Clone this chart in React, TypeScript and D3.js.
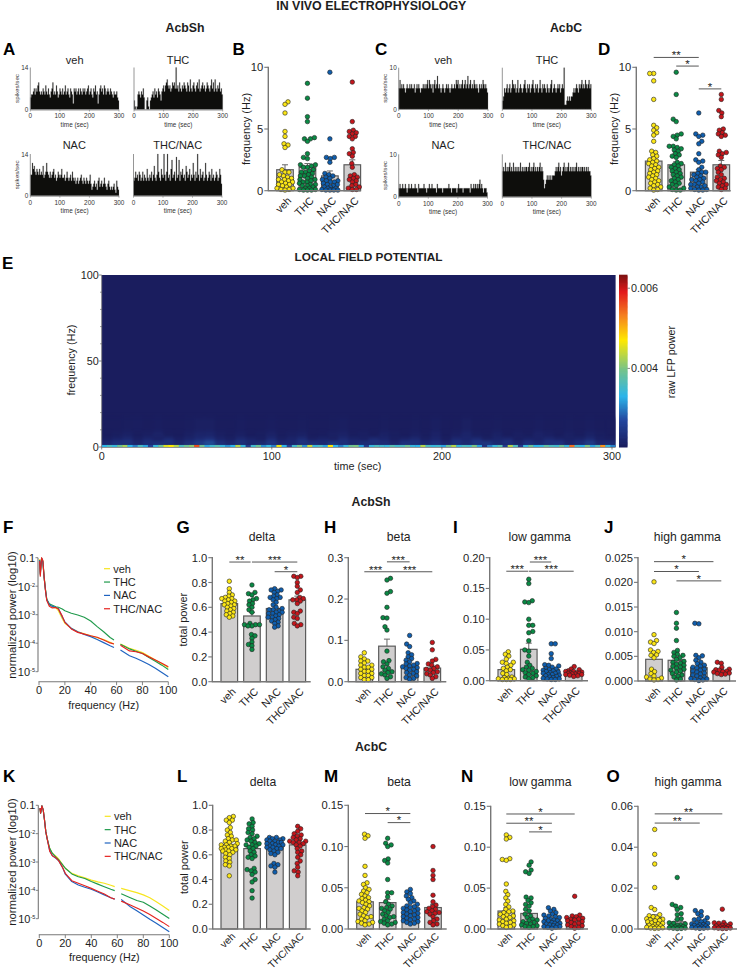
import React from "react";
import * as d3 from "d3";

// ---------- categories ----------
const groups = ["veh", "THC", "NAC", "THC/NAC"];
const groupColors = ["#FBE616", "#0A8A45", "#0F5EAE", "#C4161C"];
const lineColors = ["#F7E51E", "#1F9A4B", "#1F63C0", "#E5231F"];

// ---------- spike histograms (spikes per 3 s bin) ----------
const histAVeh = [4,5,5,6,7,5,7,6,8,9,6,5,6,5,7,6,5,8,6,5,7,5,4,6,7,9,5,6,5,8,6,4,5,7,6,5,7,5,6,8,5,6,7,5,4,7,6,5,2,7,6,7,5,6,7,5,7,6,5,7,6,7,5,6,7,8,5,6,7,5,4,7,6,8,5,6,2,5,7,8,6,7,5,8,7,5,6,7,6,5,7,6,5,4,6,5,5,6,4,3];
const histATHC = [3,1,0,1,5,6,5,4,6,5,7,4,0,0,3,4,1,0,3,4,5,6,4,7,5,6,4,7,6,5,3,6,7,8,6,8,9,10,8,7,8,6,7,9,8,9,7,14,7,8,6,9,7,6,8,7,9,8,7,6,9,8,6,10,7,6,8,9,7,6,8,9,7,10,6,7,8,9,7,8,6,7,9,8,7,6,8,10,7,9,6,10,7,6,8,7,9,6,7,5];
const histANAC = [7,7,11,9,10,8,7,9,8,7,9,7,8,7,10,6,7,8,11,8,7,6,8,6,7,8,9,6,7,5,6,8,7,6,7,9,6,6,7,5,6,8,6,5,6,7,5,8,6,5,6,4,5,6,4,5,6,7,5,4,6,5,4,6,5,4,5,7,4,2,3,4,5,3,4,2,5,6,3,4,5,3,4,6,4,3,2,4,5,3,2,3,2,3,4,2,1,5,3,2];
const histATN = [5,6,8,6,7,5,8,7,5,6,8,5,7,6,5,9,6,5,7,6,8,5,7,10,6,5,7,14,8,6,5,9,7,6,14,7,5,8,14,6,7,5,9,12,6,7,8,5,13,6,7,12,5,8,7,9,6,7,5,10,8,6,7,9,5,7,6,11,7,5,8,6,14,7,5,9,6,7,8,5,6,11,7,5,6,8,7,5,9,6,7,5,6,8,7,5,6,9,7,4];
const histCVeh = [5,7,5,6,5,6,5,4,5,6,5,5,6,5,6,5,5,6,4,5,6,5,6,5,4,5,5,6,5,6,5,6,7,5,7,6,5,6,4,6,7,5,6,8,5,6,5,4,5,6,5,4,5,6,5,6,5,4,5,6,5,5,6,5,7,6,7,5,6,5,6,7,5,6,7,5,6,8,5,6,7,5,6,5,7,6,5,6,5,4,6,5,6,5,7,6,5,6,5,4];
const histCTHC = [2,3,5,4,5,6,4,5,6,4,5,7,6,5,6,4,5,7,4,5,6,5,4,5,6,7,5,4,6,5,6,4,5,6,7,5,4,6,5,6,4,5,7,5,4,6,5,6,5,4,6,5,4,5,6,7,4,5,6,5,4,5,6,5,6,4,5,6,5,10,1,1,2,3,2,3,2,3,3,4,5,4,5,6,5,4,6,5,6,7,5,6,5,7,6,5,6,7,5,6];
const histCNAC = [2,3,2,2,3,2,2,3,2,1,2,3,2,2,3,2,2,2,3,2,2,1,3,2,2,2,2,2,3,2,2,1,2,2,3,2,2,3,2,2,2,2,1,3,2,2,2,2,2,1,2,2,2,2,2,2,3,2,2,1,2,2,2,2,2,1,2,3,2,2,2,2,1,2,2,2,2,2,2,2,1,3,2,2,3,2,3,2,3,2,3,4,2,3,2,1,2,2,2,1];
const histCTN = [6,7,6,8,6,7,6,7,8,6,7,6,8,6,7,6,7,6,7,6,8,6,7,6,7,6,7,7,6,7,8,6,7,6,7,8,6,7,6,7,6,7,8,6,7,6,4,2,3,4,5,4,5,4,5,4,5,5,5,6,7,6,7,8,6,7,5,6,7,8,6,7,6,7,8,6,7,6,7,6,7,6,7,8,6,7,6,7,6,7,7,6,7,6,7,6,7,6,6,5];

// ---------- firing frequency ----------
const bVeh = [7.2,7.0,6.3,4.8,4.4,3.8,3.7,3.5,1.7,1.5,1.5,1.3,1.2,1.1,1.0,0.9,0.9,0.8,0.7,0.7,0.6,0.5,0.5,0.4,0.3,0.2,0.2,0.1,0.1,0.05];
const bTHC = [8.7,7.5,6.0,5.6,4.3,4.2,4.2,4.0,3.0,2.7,2.6,2.1,2.1,2.0,1.9,1.9,1.7,1.6,1.5,1.5,1.4,1.3,1.2,1.2,1.1,1.0,0.9,0.9,0.8,0.7,0.7,0.6,0.5,0.5,0.4,0.4,0.3,0.2,0.2,0.1,0.1,0.05,0.05,0.05];
const bNAC = [9.6,4.2,2.7,2.7,2.6,2.3,1.4,1.3,1.2,1.1,1.0,0.9,0.8,0.8,0.7,0.7,0.6,0.5,0.5,0.4,0.3,0.3,0.2,0.2,0.1,0.1,0.05,0.05,0.05,0.05];
const bTN = [8.8,5.6,4.9,4.8,4.7,4.6,4.4,4.4,4.2,3.4,3.1,3.0,2.8,2.2,1.9,1.3,1.2,1.1,1.0,0.9,0.8,0.7,0.5,0.4,0.3,0.2,0.1,0.1];
const bMeans = [1.7, 1.9, 1.2, 2.1];
const bSems = [0.4, 0.3, 0.4, 0.4];

const dVeh = [9.5,9.5,8.9,7.4,5.3,5.1,4.9,4.7,4.5,4.0,3.2,3.1,2.9,2.8,2.6,2.5,2.4,2.3,2.2,2.1,2.0,1.9,1.8,1.7,1.6,1.5,1.4,1.3,1.2,1.1,1.0,0.9,0.8,0.7,0.6,0.5,0.4,0.3,0.2,0.1,0.05];
const dTHC = [9.6,7.8,5.8,5.6,4.6,4.5,4.4,4.2,3.6,3.6,3.5,3.4,3.3,3.2,3.0,2.9,2.8,2.7,2.3,2.2,2.1,2.0,1.9,1.8,1.7,1.6,1.5,1.4,1.3,1.2,1.1,1.0,0.9,0.8,0.7,0.6,0.5,0.4,0.3,0.2,0.1,0.05,0.05];
const dNAC = [6.3,4.6,4.5,4.4,4.0,3.8,3.0,2.5,2.4,2.3,1.9,1.7,1.5,1.5,1.4,1.3,1.2,1.1,1.0,0.9,0.9,0.8,0.7,0.6,0.5,0.5,0.4,0.3,0.3,0.2,0.1,0.1,0.05,0.05];
const dTN = [7.8,7.4,6.5,6.3,6.0,5.0,4.9,4.7,4.6,4.5,4.4,3.2,3.1,3.0,2.9,2.7,2.0,1.9,1.8,1.7,1.5,1.3,1.1,1.0,0.9,0.8,0.7,0.6,0.5,0.4,0.3,0.2,0.1];
const dMeans = [2.4, 2.1, 1.5, 2.1];
const dSems = [0.3, 0.25, 0.2, 0.35];

// ---------- spectrogram, power x 1000 ----------
const spectroBand0 = [3.3,3.6,3.4,3.9,4.2,3.3,3.0,3.6,3.2,2.6,3.4,3.9,4.5,4.7,4.3,3.6,3.9,4.1,5.6,3.9,3.2,3.5,3.7,3.4,3.1,3.3,4.3,3.4,2.5,3.5,3.9,3.1,3.4,3.0,4.6,3.3,2.6,3.5,4.0,3.1,4.4,3.4,3.6,3.2,4.7,3.3,3.0,3.4,3.9,4.0,3.2,2.5,3.4,3.6,3.5,3.4,3.7,3.5,3.6,3.9,3.4,3.3,4.3,3.6,3.4,3.5,3.2,3.9,4.3,3.4,3.6,3.5,4.0,3.2,2.4,3.0,3.4,3.7,2.5,4.3,3.6,2.5,3.4,3.9,3.3,3.4,3.8,3.6,3.5,3.9,3.4,5.4,3.5,3.3,4.0,3.2,3.6,5.2,3.4,3.0];
const spectroBand1 = [2.4,2.6,2.5,2.3,2.5,2.7,2.4,2.3,2.6,2.8,3.0,2.6,2.4,2.5,2.3,2.5,2.7,2.4,2.3,2.5,2.6,2.4,2.8,2.5,2.3,2.6,2.4,2.5,2.3,2.7,2.5,2.4,2.6,2.3,2.5,2.4,2.6,2.8,2.4,2.5,2.3,2.6,2.4,2.5,2.7,2.3,2.5,2.8,2.4,2.5];
const spectroBand2 = [2.1,2.2,2.3,2.12,2.25,2.08,2.35,2.12,2.2,2.3,2.42,2.2,2.12,2.3,2.2,2.08,2.3,2.12,2.2,2.35,2.12,2.2,2.08,2.3,2.2,2.12,2.35,2.2,2.08,2.2,2.3,2.12,2.2,2.08,2.3,2.2,2.35,2.12,2.2,2.3,2.08,2.2,2.12,2.3,2.2,2.12,2.2,2.3,2.12,2.08];
const spectroBand3 = [2.04,2.07,2.12,2.05,2.09,2.15,2.05,2.04,2.1,2.17,2.18,2.09,2.05,2.1,2.04,2.07,2.14,2.05,2.09,2.12,2.04,2.05,2.1,2.14,2.05,2.09,2.04,2.12,2.07,2.04,2.1,2.05,2.14,2.04,2.09,2.17,2.07,2.05,2.12,2.04,2.09,2.05,2.14,2.09,2.04,2.1,2.05,2.13,2.07,2.04];
const spectroBand4 = [2.04,2.04,2.05,2.06,2.04,2.06,2.04,2.04,2.05,2.08,2.08,2.04,2.04,2.06,2.04,2.04,2.06,2.04,2.04,2.05,2.04,2.04,2.05,2.07,2.04,2.04,2.04,2.05,2.04,2.04,2.05,2.04,2.07,2.04,2.04,2.08,2.04,2.04,2.05,2.04,2.04,2.04,2.06,2.04,2.04,2.05,2.04,2.06,2.04,2.04];
const colorStops = [2.04, 2.7, 3.3, 3.95, 4.7, 5.3, 5.9, 6.33];
const colorValues = ["#1A1D5E", "#24479F", "#2CB5EA", "#74C38C", "#FFE800", "#F58220", "#E31A1C", "#7A1010"];

// ---------- power spectra (log10) ----------
const specFreq = [0.5,1,2,3,4,5,6,8,10,13,15,18,20,25,30,35,40,45,50,55,58,60,63,70,75,80,85,90,95,100];
const fVeh = [-1.05,-1.5,-1.03,-1.12,-1.68,-2.1,-2.45,-2.66,-2.72,-2.76,-2.86,-3.14,-3.3,-3.48,-3.6,-3.67,-3.74,-3.81,-3.87,-3.97,-4.03,null,-4.03,-4.18,-4.25,-4.33,-4.46,-4.59,-4.72,-4.85];
const fTHC = [-1.08,-1.6,-1.02,-1.14,-1.72,-2.13,-2.46,-2.62,-2.66,-2.72,-2.74,-2.8,-2.86,-2.95,-3.01,-3.09,-3.22,-3.42,-3.6,-3.8,-3.89,null,-4.04,-4.2,-4.28,-4.36,-4.5,-4.63,-4.77,-4.92];
const fNAC = [-1.1,-1.55,-1.02,-1.15,-1.7,-2.12,-2.47,-2.65,-2.7,-2.75,-2.78,-3.08,-3.25,-3.48,-3.6,-3.69,-3.77,-3.87,-3.98,-4.09,-4.15,null,-4.24,-4.44,-4.53,-4.63,-4.75,-4.88,-5.03,-5.18];
const fTN = [-1.12,-1.65,-1.0,-1.1,-1.7,-2.15,-2.5,-2.7,-2.76,-2.75,-2.8,-3.05,-3.27,-3.5,-3.62,-3.68,-3.74,-3.79,-3.89,-3.99,-4.03,null,-4.07,-4.27,-4.3,-4.36,-4.48,-4.59,-4.7,-4.83];
const kVeh = [-1.1,-1.28,-1.02,-1.16,-1.52,-1.93,-2.17,-2.52,-2.69,-2.8,-2.9,-3.1,-3.22,-3.4,-3.49,-3.56,-3.64,-3.7,-3.75,-3.82,-3.87,null,-3.93,-4.02,-4.08,-4.16,-4.26,-4.4,-4.55,-4.71];
const kTHC = [-1.1,-1.28,-1.02,-1.16,-1.52,-1.93,-2.17,-2.52,-2.69,-2.84,-2.93,-3.1,-3.22,-3.42,-3.52,-3.58,-3.69,-3.78,-3.87,-3.96,-4.01,null,-4.12,-4.26,-4.36,-4.42,-4.55,-4.69,-4.84,-4.99];
const kNAC = [-1.1,-1.28,-1.02,-1.16,-1.52,-1.93,-2.17,-2.6,-2.77,-2.88,-2.96,-3.2,-3.43,-3.69,-3.81,-3.89,-3.96,-4.06,-4.16,-4.26,-4.31,null,-4.32,-4.58,-4.72,-4.87,-5.02,-5.16,-5.31,-5.46];
const kTN = [-1.1,-1.28,-1.02,-1.16,-1.52,-1.93,-2.17,-2.62,-2.78,-2.86,-2.96,-3.2,-3.4,-3.66,-3.75,-3.84,-3.93,-4.03,-4.13,-4.26,-4.31,null,-4.38,-4.52,-4.62,-4.73,-4.85,-4.99,-5.13,-5.28];

// ---------- band power AcbSh ----------
const gVeh = [.81,.75,.72,.70,.69,.68,.67,.67,.66,.65,.65,.64,.63,.62,.62,.61,.60,.59,.58,.57,.56,.55,.54,.53,.52];
const gTHC = [.78,.72,.71,.70,.67,.66,.65,.63,.62,.60,.58,.56,.47,.46,.46,.46,.45,.45,.38,.37,.35,.32,.30,.29,.26];
const gNAC = [.75,.74,.74,.73,.72,.70,.69,.68,.68,.67,.66,.64,.62,.60,.59,.58,.58,.57,.56,.56,.55,.55,.54,.53,.52,.52,.51,.50,.49,.48,.47,.45,.44];
const gTN = [.85,.85,.84,.80,.77,.74,.72,.68,.67,.66,.66,.65,.63,.57,.56,.55,.52,.51,.47,.46,.45];
const gMeans = [.63, .53, .59, .66];
const gSems = [.02, .03, .02, .03];

const hVeh = [.07,.06,.055,.05,.05,.045,.04,.04,.035,.035,.03,.03,.025,.025,.02,.02,.015,.015,.01,.01,.005,.005];
const hTHC = [.25,.246,.218,.214,.18,.155,.154,.133,.125,.074,.051,.048,.043,.036,.032,.028,.024,.022,.019,.016,.012,.008];
const hNAC = [.112,.091,.085,.07,.065,.06,.056,.052,.048,.044,.043,.04,.038,.036,.034,.032,.03,.028,.024,.022,.02,.016,.014,.01,.008,.006];
const hTN = [.095,.077,.054,.05,.043,.04,.036,.032,.03,.028,.024,.022,.019,.016,.012,.008];
const hMeans = [.03, .086, .035, .033];
const hSems = [.004, .017, .004, .004];

const iVeh = [.047,.043,.04,.035,.03,.03,.028,.025,.022,.02,.018,.016,.012,.01,.006,.005,.004,.003,.003,.002,.002,.002];
const iTHC = [.165,.158,.13,.128,.127,.1,.09,.09,.08,.078,.065,.05,.048,.04,.03,.025,.022,.02,.018,.017,.015,.013,.012,.01,.008,.006,.005,.003];
const iNAC = [.06,.06,.044,.036,.026,.025,.024,.022,.02,.019,.018,.017,.016,.015,.014,.013,.012,.012,.01,.01,.009,.008,.007,.006,.005,.004,.003,.003,.002,.002];
const iTN = [.023,.019,.018,.016,.015,.015,.014,.013,.013,.012,.012,.011,.011,.01,.01,.009,.008,.007];
const iMeans = [.018, .051, .018, .012];
const iSems = [.003, .01, .002, .001];

const jVeh = [.0201,.0094,.0082,.0079,.0076,.0063,.006,.0058,.0053,.0052,.0047,.0024,.0019,.0015,.001,.0008,.0006,.0004,.0003,.0002];
const jTHC = [.0139,.0117,.0107,.0082,.0062,.0058,.0054,.0052,.005,.0047,.0044,.004,.0038,.0036,.0034,.0032,.003,.0028,.0026,.0024,.0022,.002,.0018,.0015,.0012,.001,.0008,.0004,.0002];
const jNAC = [.0117,.0116,.0052,.0051,.0047,.0042,.0038,.0035,.0032,.003,.0028,.0026,.0024,.0022,.002,.0018,.0016,.0014,.0012,.001,.0008,.0006,.0005,.0004,.0003,.0002,.0001];
const jTN = [.0038,.0036,.0028,.0024,.0023,.0022,.002,.0019,.0018,.0016,.0015,.0014,.0013];
const jMeans = [.0044, .0042, .0027, .0021];
const jSems = [.0009, .0006, .0005, .0003];

// ---------- band power AcbC ----------
const lVeh = [.91,.90,.88,.88,.86,.82,.80,.78,.76,.75,.73,.72,.72,.71,.70,.69,.68,.68,.67,.67,.66,.66,.65,.65,.64,.64,.63,.63,.62,.61,.60,.58,.57,.55,.54,.52,.51,.43];
const lTHC = [.89,.86,.85,.83,.81,.80,.78,.77,.75,.74,.73,.72,.71,.70,.69,.68,.68,.67,.66,.65,.63,.62,.60,.59,.58,.57,.49,.48,.47,.46,.44,.40,.38,.31,.25];
const lNAC = [.74,.74,.73,.73,.72,.72,.71,.71,.70,.70,.69,.69,.68,.68,.67,.67,.66,.66,.65,.65,.64,.63,.62,.61,.60,.53,.52,.51,.50,.46];
const lTN = [.83,.81,.79,.77,.76,.75,.74,.73,.72,.71,.71,.70,.70,.69,.68,.67,.65,.63,.62,.60,.58,.55,.53,.50,.47,.46,.43];
const lMeans = [.68, .65, .67, .68];
const lSems = [.015, .025, .01, .02];

const mVeh = [.115,.113,.11,.076,.065,.056,.054,.05,.048,.046,.044,.042,.04,.038,.037,.035,.034,.033,.032,.03,.028,.026,.025,.024,.022,.02,.018,.016,.015,.014,.012,.01,.009,.008,.007,.006,.005];
const mTHC = [.11,.104,.102,.1,.085,.083,.08,.06,.044,.044,.039,.033,.03,.028,.026,.025,.024,.022,.02,.018,.016,.015,.014,.012,.01,.009,.008,.007,.006,.005];
const mNAC = [.048,.045,.043,.04,.038,.036,.034,.032,.03,.028,.027,.026,.025,.024,.023,.022,.021,.02,.019,.018,.017,.016,.015,.014,.013,.012,.011,.01,.009,.008,.007,.006];
const mTN = [.1,.071,.065,.06,.041,.033,.029,.027,.025,.024,.022,.021,.02,.019,.018,.015,.012,.01,.008,.006,.005];
const mMeans = [.033, .032, .019, .026];
const mSems = [.004, .004, .002, .004];

const nVeh = [.115,.112,.11,.086,.085,.084,.055,.046,.042,.038,.034,.03,.027,.024,.022,.021,.02,.018,.017,.016,.015,.014,.012,.011,.01,.009,.008,.007,.006,.005,.004,.003,.002];
const nTHC = [.082,.078,.072,.07,.068,.039,.038,.035,.032,.03,.028,.024,.022,.018,.016,.014,.012,.011,.01,.009,.008,.007,.006,.005,.004,.003,.003,.002];
const nNAC = [.026,.024,.022,.02,.018,.017,.016,.015,.014,.013,.012,.011,.01,.01,.009,.008,.007,.007,.006,.005,.005,.004,.003,.003,.002,.002,.001];
const nTN = [.04,.017,.016,.015,.014,.013,.012,.012,.011,.01,.009,.008,.007,.006,.005,.004,.003,.002,.001];
const nMeans = [.022, .019, .011, .013];
const nSems = [.004, .004, .001, .002];

const oVeh = [.0487,.0365,.0318,.0203,.0105,.0095,.007,.0065,.006,.0055,.005,.0048,.0045,.0042,.004,.0035,.003,.0028,.0025,.002,.0018,.0015,.0012,.001,.0008,.0006,.0005,.0004,.0003];
const oTHC = [.0252,.012,.0112,.0105,.0095,.0075,.007,.005,.0048,.003,.0028,.0025,.002,.0018,.0015,.0012,.001,.0008,.0006,.0005,.0004,.0003,.0002];
const oNAC = [.009,.0085,.0075,.0065,.0055,.005,.0045,.004,.0035,.003,.0028,.0025,.0022,.002,.0018,.0015,.0012,.001,.0008,.0006,.0005,.0004,.0003];
const oTN = [.0097,.0032,.003,.0028,.0025,.002,.0018,.0015,.0012,.001,.0008,.0006,.0005,.0004,.0003,.0002];
const oMeans = [.0055, .0035, .0027, .0018];
const oSems = [.0015, .001, .0004, .0004];

// ---------- drawing ----------
const FONT = "'Liberation Sans', Arial, sans-serif";
const AXIS = "#777";
const TXT = "#1e1e1e";

const T = ({ x, y, s = 11, a = "middle", w = 400, rot, fill = TXT, children }: any) => (
  <text x={x} y={y} fontSize={s} textAnchor={a} fontWeight={w} fill={fill} fontFamily={FONT}
    dominantBaseline="central" transform={rot !== undefined ? `rotate(${rot} ${x} ${y})` : undefined}>{children}</text>
);

function Hist({ data, max, x0, x1, y0, yTop, title, tx, ty, showY }: any) {
  const x = d3.scaleLinear().domain([0, 300]).range([x0, x1]);
  const y = d3.scaleLinear().domain([0, max]).range([y0, yTop]);
  const pts = [...data, data[data.length - 1]].map((v: number, i: number) => [i * 3, v]);
  const area = d3.area<any>().x(d => x(d[0])).y0(y0).y1(d => y(d[1])).curve(d3.curveStepAfter);
  return (
    <g>
      <path d={area(pts) as string} fill="#0e0e0c" stroke="#777" strokeWidth={0.25} />
      <line x1={x0} x2={x1} y1={y0 + 0.5} y2={y0 + 0.5} stroke="#8a8a8a" strokeWidth={0.9} />
      <line x1={x0} x2={x0} y1={yTop} y2={y0} stroke="#8a8a8a" strokeWidth={0.9} />
      {[0, 100, 200, 300].map(t => (
        <g key={t}>
          <line x1={x(t)} x2={x(t)} y1={y0} y2={y0 + 2} stroke="#777" strokeWidth={0.6} />
          <T x={x(t)} y={y0 + 6.4} s={6.4} fill="#333">{t}</T>
        </g>
      ))}
      <T x={(x0 + x1) / 2} y={y0 + 15} s={6.4} fill="#333">time (sec)</T>
      {showY && <>
        <T x={x0 - 2} y={yTop} s={6.4} a="end" fill="#333">{max}</T>
        <T x={x0 - 2} y={y0} s={6.4} a="end" fill="#333">0</T>
        <T x={x0 - 14} y={(y0 + yTop) / 2} s={6.2} rot={-90} fill="#333">spikes/sec</T>
      </>}
      <T x={tx} y={ty} s={11}>{title}</T>
    </g>
  );
}

function swarm(values: number[], yScale: (v: number) => number, r: number, maxOff: number) {
  const order = values.map((v, i) => i).sort((a, b) => values[a] - values[b]);
  const placed: { x: number; y: number; i: number }[] = [];
  const minD = r * 1.65;
  order.forEach((idx, n) => {
    const py = yScale(values[idx]);
    let best = 0, bestScore = -1;
    const sign = n % 2 ? 1 : -1;
    for (let k = 0; k <= maxOff * 2; k++) {
      const off = k % 2 ? (sign * (k + 1)) / 4 : (-sign * k) / 4;
      let md = 1e9;
      for (const p of placed) {
        const d = Math.hypot(p.x - off, p.y - py);
        if (d < md) md = d;
      }
      if (md >= minD) { best = off; bestScore = md; break; }
      if (md > bestScore) { bestScore = md; best = off; }
    }
    placed.push({ x: best, y: py, i: idx });
  });
  return placed.sort((a, b) => a.i - b.i);
}

function BarPanel({ axisX, c0, c3, y0, yTop, max, ticks, fmt, series, means, sems, sig, baseEnd, title, titleX, titleY, ylabel, ylabelX, catS = 10.6, catDy = 7.8 }: any) {
  const x = d3.scaleLinear().domain([0, 3]).range([c0, c3]);
  const y = d3.scaleLinear().domain([0, max]).range([y0, yTop]);
  const bw = 16.6;
  const r = 2.25;
  return (
    <g>
      {means.map((m: number, g: number) => (
        <g key={g}>
          <rect x={x(g) - bw / 2} y={y(m)} width={bw} height={y0 - y(m)} fill="#d0cece" stroke="#5c5c5c" strokeWidth={1.2} />
          <line x1={x(g)} x2={x(g)} y1={y(m)} y2={y(m + sems[g])} stroke="#666" strokeWidth={1} />
          <line x1={x(g) - 3} x2={x(g) + 3} y1={y(m + sems[g])} y2={y(m + sems[g])} stroke="#666" strokeWidth={1} />
        </g>
      ))}
      {series.map((vals: number[], g: number) =>
        swarm(vals, y, r, 16).map((p, i) => (
          <circle key={`${g}-${i}`} cx={x(g) + p.x} cy={p.y} r={r} fill={groupColors[g]} stroke="#222" strokeWidth={0.6} />
        ))
      )}
      <line x1={axisX} x2={baseEnd} y1={y0} y2={y0} stroke={AXIS} strokeWidth={1.4} />
      <line x1={axisX} x2={axisX} y1={yTop - 0.6} y2={y0 + 0.6} stroke={AXIS} strokeWidth={1.4} />
      {ticks.map((t: number) => (
        <g key={t}>
          <line x1={axisX - 4} x2={axisX} y1={y(t)} y2={y(t)} stroke={AXIS} strokeWidth={1.1} />
          <T x={axisX - 5} y={y(t)} s={11.2} a="end">{fmt(t)}</T>
        </g>
      ))}
      {groups.map((g, i) => (
        <T key={g} x={x(i) + 4.2} y={y0 + catDy} s={catS} a="end" rot={-45}>{g}</T>
      ))}
      {sig.map((b: any, i: number) => (
        <g key={i}>
          <line x1={x(b[0])} x2={x(b[1])} y1={y(b[2])} y2={y(b[2])} stroke="#444" strokeWidth={0.9} />
          <T x={(x(b[0]) + x(b[1])) / 2} y={y(b[2]) - 2.2} s={11.5} w={400}>{b[3]}</T>
        </g>
      ))}
      {title && <T x={titleX} y={titleY} s={12.2}>{title}</T>}
      {ylabel && <T x={ylabelX} y={(y0 + yTop) / 2} s={11} rot={-90}>{ylabel}</T>}
    </g>
  );
}

function SpecPanel({ x0, x1, y0, yTop, axisY, series, legendX, legendY, ylabelY, labelY, xTickY }: any) {
  const x = d3.scaleLinear().domain([0, 100]).range([x0, x1]);
  const y = d3.scaleLinear().domain([-5, -1]).range([y0, yTop]);
  const line = d3.line<any>().defined(d => d[1] !== null).x(d => x(d[0])).y(d => y(d[1]));
  const labels: any[] = [[-1, "0.1"], [-2, null], [-3, null], [-4, null], [-5, null]];
  return (
    <g>
      {series.map((s: any[], i: number) => (
        <path key={i} d={line(specFreq.map((f, k) => [f, s[k]])) as string} fill="none" stroke={lineColors[i]} strokeWidth={1.15} strokeLinejoin="round" />
      ))}
      <line x1={x0 - 1} x2={x0 - 1} y1={yTop} y2={y0} stroke={AXIS} strokeWidth={1.1} />
      <line x1={x0 - 0.5} x2={x1} y1={axisY} y2={axisY} stroke={AXIS} strokeWidth={1.1} />
      {labels.map(([v, l]) => (
        <g key={v}>
          <line x1={x0 - 3.5} x2={x0 - 1} y1={y(v)} y2={y(v)} stroke={AXIS} strokeWidth={0.9} />
          {l ? <T x={x0 - 4} y={y(v)} s={11} a="end">{l}</T> :
            <text x={x0 - 4} y={y(v) + 4.5} textAnchor="end" fontSize={11} fontFamily={FONT} fill={TXT}>10<tspan dy={-4} fontSize={5.5}>{v}</tspan></text>}
        </g>
      ))}
      {[0, 20, 40, 60, 80, 100].map(t => (
        <g key={t}>
          <line x1={x(t)} x2={x(t)} y1={axisY} y2={axisY + 3.5} stroke={AXIS} strokeWidth={0.9} />
          <T x={x(t)} y={xTickY} s={11}>{t}</T>
        </g>
      ))}
      <T x={(x0 + x1) / 2} y={labelY} s={10.8}>frequency (Hz)</T>
      <T x={12} y={ylabelY} s={11.3} rot={-90}>normalized power (log10)</T>
      {groups.map((g, i) => (
        <g key={g}>
          <line x1={legendX} x2={legendX + 6} y1={legendY + i * 13.35} y2={legendY + i * 13.35} stroke={lineColors[i]} strokeWidth={1.2} />
          <T x={legendX + 9.2} y={legendY + i * 13.35} s={11} a="start">{g}</T>
        </g>
      ))}
    </g>
  );
}

function Spectrogram() {
  const xLeft = 101.7, xRight = 615.6, yB = 447, yT = 275;
  const tx = d3.scaleLinear().domain([0, 300]).range([101.7, 612]);
  const fy = d3.scaleLinear().domain([0, 100]).range([yB, yT]);
  const col = d3.scaleLinear<string>().domain(colorStops).range(colorValues).clamp(true);
  const bands = [spectroBand4, spectroBand3, spectroBand2, spectroBand1];
  const bandEdge = [[9, 17], [5, 9], [2.5, 5], [1.2, 2.5]];
  const cy = d3.scaleLinear().domain([colorStops[0], colorStops[colorStops.length - 1]]).range([447, 275]);
  const cbar = d3.range(colorStops[0], 6.33, 0.03);
  const b0 = d3.scaleBand<number>().domain(d3.range(spectroBand0.length)).range([tx(0), xRight]);
  return (
    <g>
      <defs>
        <filter id="sblur" filterUnits="userSpaceOnUse" x={80} y={350} width={560} height={120} colorInterpolationFilters="sRGB"><feGaussianBlur stdDeviation="1.8 2.2" /></filter>
        <filter id="sblur0" filterUnits="userSpaceOnUse" x={80} y={430} width={560} height={30} colorInterpolationFilters="sRGB"><feGaussianBlur stdDeviation="0.7 0.3" /></filter>
        <clipPath id="hclip"><rect x={xLeft} y={yT} width={xRight - xLeft} height={yB - yT} /></clipPath>
      </defs>
      <rect x={xLeft} y={yT} width={xRight - xLeft} height={yB - yT} fill={col(2.04)} />
      <g clipPath="url(#hclip)">
        <g filter="url(#sblur)">
          {bands.map((b, bi) => {
            const bx = d3.scaleBand<number>().domain(d3.range(b.length)).range([tx(0), xRight]);
            return b.map((v, i) => (
              <rect key={`${bi}-${i}`} x={bx(i)} width={bx.bandwidth() + 0.5}
                y={fy(bandEdge[bi][1])} height={fy(bandEdge[bi][0]) - fy(bandEdge[bi][1])} fill={col(v)} />
            ));
          })}
        </g>
        <g filter="url(#sblur0)">
          {spectroBand0.map((v, i) => (
            <rect key={i} x={b0(i)} width={b0.bandwidth() + 0.5} y={fy(1.2)} height={fy(0) - fy(1.2)} fill={col(v)} />
          ))}
        </g>
      </g>
      <line x1={xLeft} x2={xLeft} y1={yT} y2={yB} stroke="#777" strokeWidth={0.8} />
      {[0, 10, 20, 30, 40, 50, 60, 70, 80, 90, 100].map(t => (
        <line key={t} x1={xLeft - (t % 50 === 0 ? 3 : 1.5)} x2={xLeft} y1={fy(t)} y2={fy(t)} stroke="#555" strokeWidth={0.7} />
      ))}
      {[0, 50, 100].map(t => <T key={t} x={xLeft - 3} y={fy(t)} s={10.8} a="end">{t}</T>)}
      <line x1={xLeft} x2={xRight} y1={yB + 0.5} y2={yB + 0.5} stroke="#777" strokeWidth={0.8} />
      {[0, 100, 200, 300].map(t => (
        <g key={t}>
          <line x1={tx(t)} x2={tx(t)} y1={yB} y2={yB + 2.5} stroke="#555" strokeWidth={0.7} />
          <T x={tx(t)} y={yB + 9} s={10.8}>{t}</T>
        </g>
      ))}
      <T x={357.7} y={466} s={10.8}>time (sec)</T>
      <T x={70.6} y={360} s={10.8} rot={-90}>frequency (Hz)</T>
      {cbar.map(v => <rect key={v} x={619} width={8.5} y={cy(v) - 1.5} height={2} fill={col(v)} />)}
      {[4, 6].map(t => (
        <g key={t}>
          <line x1={627.5} x2={630} y1={cy(t)} y2={cy(t)} stroke="#555" strokeWidth={0.7} />
          <T x={631} y={cy(t)} s={10.8} a="start">{(t / 1000).toFixed(3)}</T>
        </g>
      ))}
      <T x={670.7} y={362} s={10.8} rot={-90}>raw LFP power</T>
    </g>
  );
}

const letters: [string, number, number][] = [
  ["A", 3, 49], ["B", 232.5, 49], ["C", 375, 49], ["D", 598, 49], ["E", 2, 263],
  ["F", 3, 527], ["G", 176.5, 527], ["H", 324, 527], ["I", 453, 527], ["J", 604, 527],
  ["K", 3, 776], ["L", 177, 776], ["M", 324, 776], ["N", 461, 776], ["O", 606.5, 776],
];
const fmtFixed = (n: number) => (v: number) => v.toFixed(n);

export default function App() {
  return (
    <svg width={738} height={972} style={{ position: "absolute", left: 0, top: 0, display: "block", background: "#fff" }}>
      <T x={371.3} y={6} s={12.4} w={700}>IN VIVO ELECTROPHYSIOLOGY</T>
      <T x={185} y={28} s={12.3} w={700}>AcbSh</T>
      <T x={566} y={28} s={12.3} w={700}>AcbC</T>
      <T x={368.5} y={257} s={11.8} w={700}>LOCAL FIELD POTENTIAL</T>
      <T x={371} y={502} s={12.3} w={700}>AcbSh</T>
      <T x={371} y={747} s={12.3} w={700}>AcbC</T>
      {letters.map(([l, x, y]) => <T key={l} x={x} y={y} s={17} w={700} a="start" fill="#000">{l}</T>)}

      <Hist data={histAVeh} max={14} x0={30.3} x1={119} y0={109.5} yTop={67.5} title="veh" tx={74.7} ty={60} showY />
      <Hist data={histATHC} max={14} x0={134} x1={222.7} y0={109.5} yTop={67.5} title="THC" tx={178} ty={60} />
      <Hist data={histANAC} max={14} x0={30.3} x1={119} y0={195.7} yTop={154} title="NAC" tx={74.3} ty={145} showY />
      <Hist data={histATN} max={14} x0={133.5} x1={222} y0={195.7} yTop={154} title="THC/NAC" tx={177.7} ty={145} />
      <Hist data={histCVeh} max={10} x0={398.7} x1={488} y0={109} yTop={67.7} title="veh" tx={443.3} ty={60} showY />
      <Hist data={histCTHC} max={10} x0={502.3} x1={591.3} y0={109} yTop={67.7} title="THC" tx={547} ty={60} />
      <Hist data={histCNAC} max={10} x0={398.7} x1={487.5} y0={196.7} yTop={154.3} title="NAC" tx={443} ty={145} showY />
      <Hist data={histCTN} max={10} x0={502.3} x1={591.3} y0={196.7} yTop={154.3} title="THC/NAC" tx={547} ty={145} />

      <BarPanel axisX={268.3} c0={285} c3={352.3} y0={190.7} yTop={67.3} max={10} ticks={[0, 5, 10]} fmt={fmtFixed(0)} baseEnd={360.7}
        series={[bVeh, bTHC, bNAC, bTN]} means={bMeans} sems={bSems} sig={[]} ylabel="frequency (Hz)" ylabelX={246} />
      <BarPanel axisX={636.3} c0={653.7} c3={721.3} y0={190.7} yTop={67.3} max={10} ticks={[0, 5, 10]} fmt={fmtFixed(0)} baseEnd={730.7}
        series={[dVeh, dTHC, dNAC, dTN]} means={dMeans} sems={dSems} sig={[[0, 2, 10.8, "**"], [1, 2, 10.1, "*"], [2, 3, 8.25, "*"]]} ylabel="frequency (Hz)" ylabelX={614} />

      <Spectrogram />

      <SpecPanel x0={39} x1={168.3} y0={671.7} yTop={557.7} axisY={681.7} series={[fVeh, fTHC, fNAC, fTN]} legendX={104} legendY={568.7} ylabelY={615} labelY={705} xTickY={690} />
      <SpecPanel x0={39.3} x1={169.3} y0={918.7} yTop={805.3} axisY={934.7} series={[kVeh, kTHC, kNAC, kTN]} legendX={104.7} legendY={816.3} ylabelY={862} labelY={957} xTickY={943} />

      <BarPanel axisX={212.3} c0={229.3} c3={297.3} y0={681.7} yTop={557.7} max={1} ticks={[0, .2, .4, .6, .8, 1]} fmt={fmtFixed(1)} baseEnd={310.7}
        series={[gVeh, gTHC, gNAC, gTN]} means={gMeans} sems={gSems} sig={[[0, 0.94, .965, "**"], [1, 3, .965, "***"], [2, 3, .887, "*"]]}
        title="delta" titleX={262} titleY={536.7} ylabel="total power" ylabelX={183.3} />
      <BarPanel axisX={348.3} c0={364.3} c3={432.3} y0={681.7} yTop={557.7} max={.3} ticks={[0, .1, .2, .3]} fmt={fmtFixed(1)} baseEnd={446.3}
        series={[hVeh, hTHC, hNAC, hTN]} means={hMeans} sems={hSems} sig={[[0, 1, .266, "***"], [1, 2, .29, "***"], [1, 3, .266, "***"]]}
        title="beta" titleX={398.7} titleY={536.7} />
      <BarPanel axisX={489.7} c0={506.3} c3={573.7} y0={680.7} yTop={557.7} max={.2} ticks={[0, .05, .1, .15, .2]} fmt={fmtFixed(2)} baseEnd={588}
        series={[iVeh, iTHC, iNAC, iTN]} means={iMeans} sems={iSems} sig={[[0, 0.97, .178, "***"], [1.05, 2, .193, "***"], [1, 3, .178, "***"]]}
        title="low gamma" titleX={539.7} titleY={536.7} />
      <BarPanel axisX={638} c0={654} c3={721.3} y0={681} yTop={557.7} max={.025} ticks={[0, .005, .01, .015, .02, .025]} fmt={fmtFixed(3)} baseEnd={736}
        series={[jVeh, jTHC, jNAC, jTN]} means={jMeans} sems={jSems} sig={[[0, 2.65, .0242, "*"], [0, 2, .0222, "*"], [1, 3, .0203, "*"]]}
        title="high gamma" titleX={687.3} titleY={536.7} />

      <BarPanel axisX={212.7} c0={229.3} c3={297.7} y0={929} yTop={805.3} max={1} ticks={[0, .2, .4, .6, .8, 1]} fmt={fmtFixed(1)} baseEnd={310.7} catS={10.2} catDy={5.5}
        series={[lVeh, lTHC, lNAC, lTN]} means={lMeans} sems={lSems} sig={[]}
        title="delta" titleX={263} titleY={782.3} ylabel="total power" ylabelX={184.3} />
      <BarPanel axisX={348.3} c0={365} c3={433} y0={929} yTop={805.3} max={.15} ticks={[0, .05, .1, .15]} fmt={fmtFixed(2)} baseEnd={446.7} catS={10.2} catDy={5.5}
        series={[mVeh, mTHC, mNAC, mTN]} means={mMeans} sems={mSems} sig={[[0, 2, .14, "*"], [1, 2, .129, "*"]]}
        title="beta" titleX={399} titleY={782.3} />
      <BarPanel axisX={490.7} c0={506.3} c3={574.7} y0={929} yTop={806.3} max={.15} ticks={[0, .05, .1, .15]} fmt={fmtFixed(2)} baseEnd={588} catS={10.2} catDy={5.5}
        series={[nVeh, nTHC, nNAC, nTN]} means={nMeans} sems={nSems} sig={[[0, 3, .1406, "*"], [0, 2, .1293, "**"], [1, 2, .1187, "*"]]}
        title="low gamma" titleX={540.3} titleY={782.3} />
      <BarPanel axisX={638} c0={654.7} c3={722.3} y0={929} yTop={806.3} max={.06} ticks={[0, .02, .04, .06]} fmt={fmtFixed(2)} baseEnd={737} catS={10.2} catDy={5.5}
        series={[oVeh, oTHC, oNAC, oTN]} means={oMeans} sems={oSems} sig={[[0, 3, .0563, "**"], [0, 2, .0518, "**"]]}
        title="high gamma" titleX={688} titleY={782.3} />
    </svg>
  );
}
